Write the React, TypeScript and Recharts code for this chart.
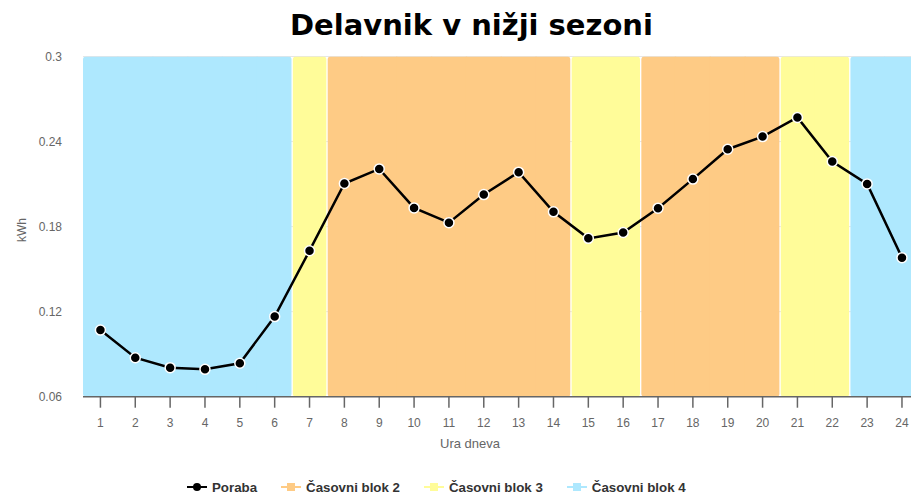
import React from 'react';
import { ComposedChart, Bar, Line, XAxis, YAxis, CartesianGrid, Label } from 'recharts';

const hours = ['1','2','3','4','5','6','7','8','9','10','11','12','13','14','15','16','17','18','19','20','21','22','23','24'];
const poraba = [0.107, 0.0875, 0.0805, 0.0793, 0.0836, 0.1165, 0.163, 0.2104, 0.2207, 0.1932, 0.1828, 0.2026, 0.2184, 0.1904, 0.1717, 0.1758, 0.193, 0.2135, 0.2346, 0.2435, 0.257, 0.2259, 0.2101, 0.1581];
const blockOfHour = [4,4,4,4,4,4,3,2,2,2,2,2,2,2,3,3,2,2,2,2,3,3,4,4];
const bandTop = 0.3;
const yTicks = [0.06, 0.12, 0.18, 0.24, 0.3];
const blockIds = [2, 3, 4];
const blockNames: Record<number, string> = { 2: 'Časovni blok 2', 3: 'Časovni blok 3', 4: 'Časovni blok 4' };
const blockColors: Record<number, string> = { 2: '#FECB85', 3: '#FFFC99', 4: '#AEE8FE' };
const title = 'Delavnik v nižji sezoni';
const xTitle = 'Ura dneva';
const yTitle = 'kWh';
const lineName = 'Poraba';

const data = hours.map((h, i) => ({
  hour: h,
  poraba: poraba[i],
  band: bandTop,
  block: blockOfHour[i],
  first: i === 0 || blockOfHour[i - 1] !== blockOfHour[i],
  last: i === hours.length - 1 || blockOfHour[i + 1] !== blockOfHour[i],
  isEdgeL: i === 0,
  isEdgeR: i === hours.length - 1,
}));

const BandShape = (props: any) => {
  const { x, y, width, height, payload } = props;
  if (width == null || height == null) return null;
  const gap = 0.75;
  const x0 = x + (payload.first ? (payload.isEdgeL ? 0 : gap) : -0.6);
  const x1 = x + width - (payload.last ? (payload.isEdgeR ? 0 : gap) : -0.6);
  const y0 = y;
  const y1 = y + height;
  const r = 3;
  const rl = payload.first ? r : 0;
  const rr = payload.last ? r : 0;
  const d = [
    `M${x0},${y1 - rl}`,
    `L${x0},${y0 + rl}`,
    rl ? `Q${x0},${y0} ${x0 + rl},${y0}` : '',
    `L${x1 - rr},${y0}`,
    rr ? `Q${x1},${y0} ${x1},${y0 + rr}` : '',
    `L${x1},${y1 - rr}`,
    rr ? `Q${x1},${y1} ${x1 - rr},${y1}` : '',
    `L${x0 + rl},${y1}`,
    rl ? `Q${x0},${y1} ${x0},${y1 - rl}` : '',
    'Z',
  ].join(' ');
  return <path d={d} fill={blockColors[payload.block]} stroke="none" />;
};

const W = 927;
const H = 489;

export default function App() {
  return (
    <div style={{ position: 'fixed', top: 0, left: 0, width: 911, height: 497, overflow: 'hidden', background: '#fff' }}>
      <div style={{ position: 'absolute', top: 8, left: 8, width: W, height: H }}>
        <div
          style={{
            position: 'absolute', top: 0, left: 0, width: W, height: 34, lineHeight: '34px',
            textAlign: 'center', fontFamily: 'DejaVu Sans', fontWeight: 'bold', fontSize: 29, color: '#000',
          }}
        >
          {title}
        </div>
        <div style={{ position: 'absolute', top: 0, left: 0 }}>
          <ComposedChart
            width={W}
            height={H}
            data={data}
            barCategoryGap={0}
            margin={{ top: 48.5, right: 15.6, left: 15, bottom: 40.3 }}
          >
            <CartesianGrid vertical={false} stroke="#e6e6e6" />
            <XAxis
              dataKey="hour"
              height={60}
              tickSize={11}
              tickMargin={11}
              axisLine={{ stroke: '#666', strokeWidth: 1.5 }}
              tickLine={{ stroke: '#666', strokeWidth: 1.5 }}
              tick={{ fill: '#666', fontSize: 12, fontFamily: 'Liberation Sans' }}
              interval={0}
            >
              <Label
                content={() => (
                  <text x={462} y={435} textAnchor="middle" dominantBaseline="central" fill="#666" fontSize={13} fontFamily="Liberation Sans">
                    {xTitle}
                  </text>
                )}
              />
            </XAxis>
            <YAxis
              width={60}
              domain={[0.06, 0.3]}
              ticks={yTicks}
              allowDataOverflow
              axisLine={false}
              tickLine={false}
              tickSize={6}
              tickMargin={15}
              tick={{ fill: '#666', fontSize: 12, fontFamily: 'Liberation Sans' }}
            >
              <Label
                content={() => (
                  <text x={13.5} y={222} textAnchor="middle" dominantBaseline="central" fill="#666" fontSize={12} fontFamily="Liberation Sans" transform="rotate(-90 13.5 222)">
                    {yTitle}
                  </text>
                )}
              />
            </YAxis>
            <Bar dataKey="band" shape={BandShape} isAnimationActive={false} legendType="none" />
            <Line
              type="linear"
              dataKey="poraba"
              name={lineName}
              stroke="#000"
              strokeWidth={2.5}
              dot={{ r: 5, fill: '#000', stroke: '#fff', strokeWidth: 1.5 }}
              activeDot={false}
              isAnimationActive={false}
            />
          </ComposedChart>
        </div>
        <div
          style={{
            position: 'absolute', top: 471, left: 179, display: 'flex', alignItems: 'center',
            fontFamily: 'Liberation Sans', fontWeight: 'bold', fontSize: 13.3, color: '#333', whiteSpace: 'nowrap',
          }}
        >
          <div style={{ display: 'flex', alignItems: 'center', marginRight: 24 }}>
            <svg width={20} height={16} style={{ marginRight: 5 }}>
              <line x1={0} y1={8} x2={20} y2={8} stroke="#000" strokeWidth={2} />
              <circle cx={10} cy={8} r={4} fill="#000" />
            </svg>
            <span>{lineName}</span>
          </div>
          {blockIds.map((b) => (
            <div key={b} style={{ display: 'flex', alignItems: 'center', marginRight: 24 }}>
              <svg width={20} height={16} style={{ marginRight: 5 }}>
                <line x1={0} y1={8} x2={20} y2={8} stroke={blockColors[b]} strokeWidth={2} />
                <rect x={6} y={4} width={8} height={8} fill={blockColors[b]} />
              </svg>
              <span>{blockNames[b]}</span>
            </div>
          ))}
        </div>
      </div>
    </div>
  );
}
